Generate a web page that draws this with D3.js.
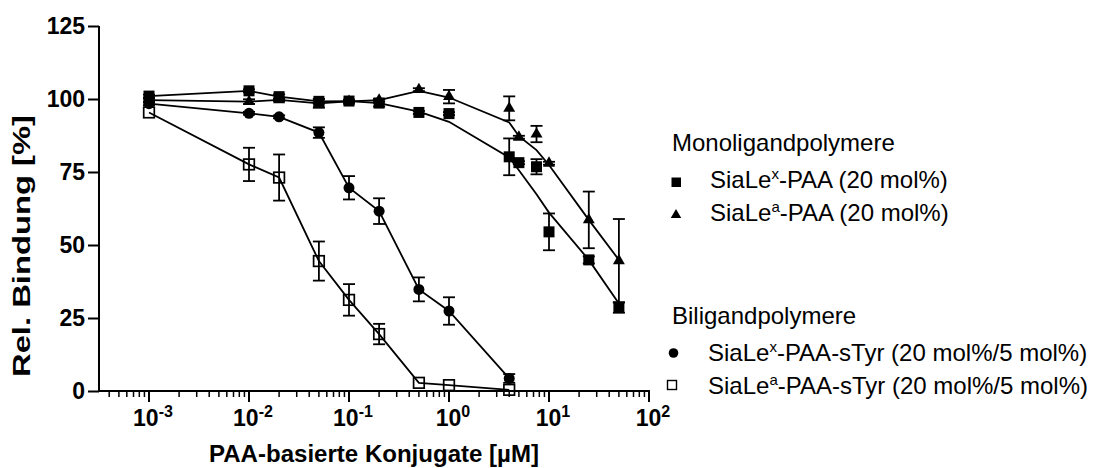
<!DOCTYPE html>
<html>
<head>
<meta charset="utf-8">
<script src="https://cdn.jsdelivr.net/npm/d3@7/dist/d3.min.js"></script>
<style>
  html, body { margin: 0; padding: 0; background: #fff; }
  svg { display: block; }
  text { font-family: "Liberation Sans", Arial, sans-serif; fill: #000; }
</style>
</head>
<body>
<svg id="chart" width="1096" height="468"></svg>
<script>
// Concentrations (µM) of the PAA conjugates
const concMono = [0.001, 0.01, 0.02, 0.05, 0.1, 0.2, 0.5, 1, 4, 5, 7.5, 10, 25, 50];
const concBi = [0.001, 0.01, 0.02, 0.05, 0.1, 0.2, 0.5, 1, 4];

// SiaLe^x-PAA (20 mol%): mean, SEM and connecting curve
const sialexMean = [101.0, 102.8, 100.8, 99.2, 99.3, 98.6, 95.4, 95.0, 80.2, 78.2, 76.8, 54.5, 44.9, 28.6];
const sialexErr  = [0.5, 0.5, 0.8, 0.8, 0.5, 1.2, 0.5, 0.5, 6.3, 0.5, 2.6, 6.3, 1.2, 1.8];
const sialexCurve = [101.0, 102.8, 100.8, 99.2, 99.3, 98.6, 95.7, 92.2, 80.0, 75.6, 67.4, 61.1, 44.9, 30.0];

// SiaLe^a-PAA (20 mol%)
const sialeaMean = [99.6, 99.1, 99.7, 98.5, 99.2, 99.6, 103.2, 100.8, 96.8, 86.9, 88.0, 78.0, 58.6, 44.6];
const sialeaErr  = [0.5, 0.8, 0.5, 1.5, 0.5, 0.5, 0.5, 2.3, 4.1, 0.5, 2.8, 0.5, 9.7, 14.3];
const sialeaCurve = [99.6, 99.1, 99.7, 98.5, 99.2, 99.6, 102.8, 100.5, 92.0, 87.3, 82.5, 77.4, 58.6, 44.9];

// SiaLe^x-PAA-sTyr (20 mol%/5 mol%)
const sialexTyrMean = [98.4, 95.1, 93.9, 88.5, 69.6, 61.6, 34.8, 27.4, 4.3];
const sialexTyrErr  = [0.5, 0.5, 0.5, 1.8, 4.0, 4.4, 4.1, 4.7, 1.5];

// SiaLe^a-PAA-sTyr (20 mol%/5 mol%)
const sialeaTyrMean = [95.4, 77.6, 73.1, 44.5, 31.2, 19.5, 2.8, 2.0, 0.4];
const sialeaTyrErr  = [0, 5.7, 7.9, 6.7, 5.4, 3.5, 0, 0, 0];

const yTicks = [0, 25, 50, 75, 100, 125];
const xTicks = [1e-3, 1e-2, 1e-1, 1, 10, 100];
const xTickExp = ["-3", "-2", "-1", "0", "1", "2"];

const svg = d3.select("#chart");

const x = d3.scaleLog().domain([Math.pow(10, -3.5), 100]).range([99, 649]);
const y = d3.scaleLinear().domain([0, 125]).range([391, 26]);

// ---- axes ----
const yAxis = d3.axisLeft(y).tickValues(yTicks).tickSize(11).tickPadding(3).tickFormat(d3.format("d"));
const gy = svg.append("g").attr("transform", "translate(99,0)").call(yAxis);
gy.select(".domain").attr("stroke", "#000").attr("stroke-width", 2).attr("d", "M0,26V392");
gy.selectAll(".tick line").attr("stroke", "#000").attr("stroke-width", 2);
gy.selectAll(".tick text").attr("font-size", 23).attr("font-weight", "bold")
  .attr("font-family", "Liberation Sans, Arial, sans-serif");

// minor ticks on the log axis
const minor = [];
for (let e = -4; e <= 1; e++) {
  for (let m = 2; m <= 9; m++) {
    const v = m * Math.pow(10, e);
    if (v >= x.domain()[0] && v <= 100) minor.push(v);
  }
}
const gx = svg.append("g").attr("transform", "translate(0,391)");
gx.append("path").attr("d", "M98,0H650").attr("stroke", "#000").attr("stroke-width", 2);
gx.selectAll("line.minor").data(minor).join("line").attr("class", "minor")
  .attr("x1", d => x(d)).attr("x2", d => x(d)).attr("y1", 0).attr("y2", 6)
  .attr("stroke", "#000").attr("stroke-width", 1.5);
gx.selectAll("line.major").data(xTicks).join("line").attr("class", "major")
  .attr("x1", d => x(d)).attr("x2", d => x(d)).attr("y1", 0).attr("y2", 11)
  .attr("stroke", "#000").attr("stroke-width", 2);
const xl = gx.selectAll("text.xlab").data(xTicks).join("text").attr("class", "xlab")
  .attr("x", d => x(d) + 4).attr("y", 35).attr("text-anchor", "middle")
  .attr("font-size", 23).attr("font-weight", "bold");
xl.append("tspan").text("10");
xl.append("tspan").attr("font-size", 16).attr("dy", -9).text((d, i) => xTickExp[i]);

// axis titles
svg.append("text").attr("x", 374).attr("y", 462).attr("text-anchor", "middle")
  .attr("font-size", 23).attr("font-weight", "bold")
  .attr("textLength", 330).attr("lengthAdjust", "spacingAndGlyphs")
  .text("PAA-basierte Konjugate [µM]");
svg.append("text").attr("transform", "translate(30,246) rotate(-90)").attr("text-anchor", "middle")
  .attr("font-size", 23).attr("font-weight", "bold")
  .attr("textLength", 262).attr("lengthAdjust", "spacingAndGlyphs")
  .text("Rel. Bindung [%]");

// ---- data ----
const line = d3.line().x(d => x(d[0])).y(d => y(d[1]));
const zip = (a, b) => a.map((v, i) => [v, b[i]]);

const plot = svg.append("g");
function drawLine(xs, ys) {
  plot.append("path").datum(zip(xs, ys)).attr("d", line)
    .attr("fill", "none").attr("stroke", "#000").attr("stroke-width", 1.8);
}
drawLine(concBi, sialeaTyrMean);
drawLine(concBi, sialexTyrMean);
drawLine(concMono, sialexCurve);
drawLine(concMono, sialeaCurve);

function drawErr(xs, means, errs) {
  const g = plot.append("g").attr("stroke", "#000").attr("stroke-width", 1.8);
  xs.forEach((c, i) => {
    const e = errs[i];
    if (!e) return;
    const cx = x(c), y1 = y(means[i] + e), y2 = y(means[i] - e);
    g.append("line").attr("x1", cx).attr("x2", cx).attr("y1", y1).attr("y2", y2);
    g.append("line").attr("x1", cx - 6).attr("x2", cx + 6).attr("y1", y1).attr("y2", y1);
    g.append("line").attr("x1", cx - 6).attr("x2", cx + 6).attr("y1", y2).attr("y2", y2);
  });
}
drawErr(concMono, sialexMean, sialexErr);
drawErr(concMono, sialeaMean, sialeaErr);
drawErr(concBi, sialexTyrMean, sialexTyrErr);
drawErr(concBi, sialeaTyrMean, sialeaTyrErr);

const tri = d3.symbol().type(d3.symbolTriangle).size(62);
const triSmall = d3.symbol().type(d3.symbolTriangle).size(48);

// markers
plot.selectAll("rect.sa").data(zip(concBi, sialeaTyrMean)).join("rect").attr("class", "sa")
  .attr("x", d => x(d[0]) - 5.3).attr("y", d => y(d[1]) - 5.3).attr("width", 10.6).attr("height", 10.6)
  .attr("fill", "none").attr("stroke", "#000").attr("stroke-width", 1.7);
plot.selectAll("circle.sx").data(zip(concBi, sialexTyrMean)).join("circle").attr("class", "sx")
  .attr("cx", d => x(d[0])).attr("cy", d => y(d[1])).attr("r", 5.5).attr("fill", "#000");
plot.selectAll("path.ta").data(zip(concMono, sialeaMean)).join("path").attr("class", "ta")
  .attr("d", tri).attr("transform", d => `translate(${x(d[0])},${y(d[1])})`).attr("fill", "#000");
plot.selectAll("rect.qx").data(zip(concMono, sialexMean)).join("rect").attr("class", "qx")
  .attr("x", d => x(d[0]) - 5.5).attr("y", d => y(d[1]) - 5.5).attr("width", 11).attr("height", 11)
  .attr("fill", "#000");

// ---- legend ----
const leg = svg.append("g").attr("font-size", 24);
function label(yb, xPos, base, sup, rest) {
  const t = leg.append("text").attr("x", xPos).attr("y", yb);
  t.append("tspan").text(base);
  if (sup) {
    t.append("tspan").attr("font-size", 15).attr("dy", -9).text(sup);
    t.append("tspan").attr("dy", 9).text(rest);
  }
  return t;
}
label(151, 672, "Monoligandpolymere");
label(188, 710, "SiaLe", "x", "-PAA (20 mol%)");
label(221, 710, "SiaLe", "a", "-PAA (20 mol%)");
label(324, 672, "Biligandpolymere");
label(361, 708, "SiaLe", "x", "-PAA-sTyr (20 mol%/5 mol%)");
label(394, 708, "SiaLe", "a", "-PAA-sTyr (20 mol%/5 mol%)");

leg.append("rect").attr("x", 671.5).attr("y", 177.5).attr("width", 9.5).attr("height", 9.5).attr("fill", "#000");
leg.append("path").attr("d", triSmall).attr("transform", "translate(676,215)").attr("fill", "#000");
leg.append("circle").attr("cx", 673.5).attr("cy", 353).attr("r", 4.8).attr("fill", "#000");
leg.append("rect").attr("x", 667.5).attr("y", 380.5).attr("width", 9).attr("height", 9)
  .attr("fill", "none").attr("stroke", "#000").attr("stroke-width", 1.4);
</script>
</body>
</html>
